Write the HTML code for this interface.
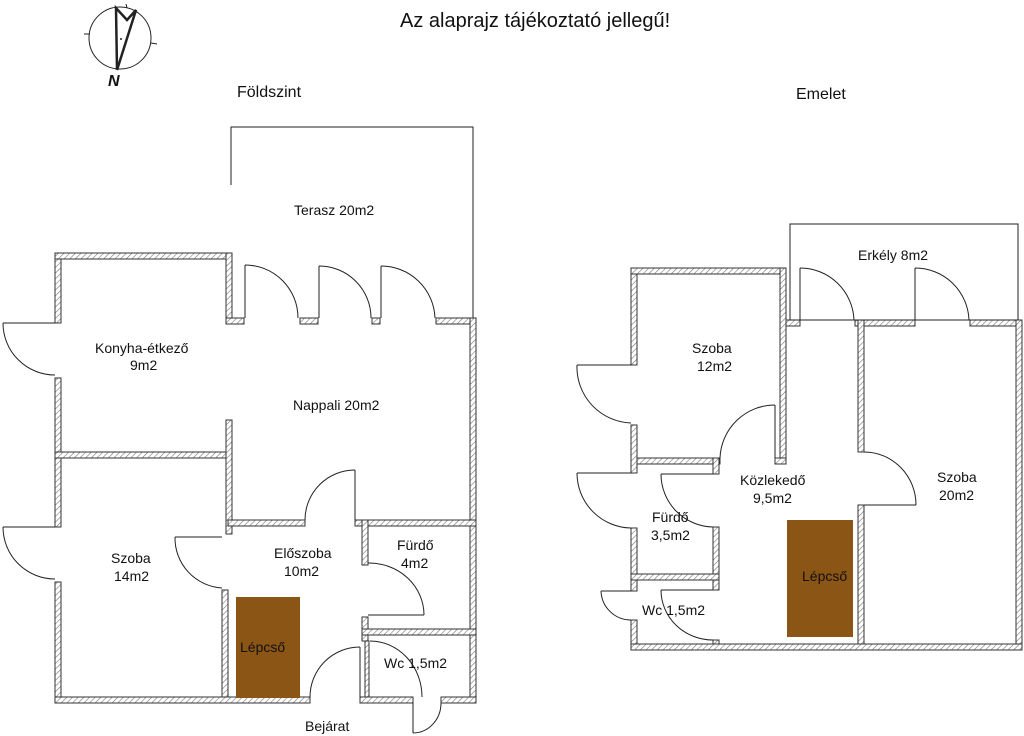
<!DOCTYPE html>
<html><head><meta charset="utf-8"><style>
body{margin:0;background:#fff}
svg{display:block}
text{font-family:"Liberation Sans",sans-serif;font-size:14px;fill:#111}
</style></head><body>
<svg width="1024" height="736" viewBox="0 0 1024 736">
<defs>
<pattern id="h" width="4" height="4" patternUnits="userSpaceOnUse" patternTransform="rotate(45)">
<rect width="4" height="4" fill="#fff"/><line x1="0" y1="0" x2="0" y2="4" stroke="#777" stroke-width="1.2"/>
</pattern>
</defs>
<g fill="url(#h)" stroke="#333" stroke-width="1">
<!-- ground floor walls -->
<rect x="55" y="253" width="6" height="70"/>
<rect x="55" y="378" width="6" height="149"/>
<rect x="55" y="582" width="6" height="121"/>
<rect x="55" y="253" width="177" height="6"/>
<rect x="226" y="253" width="6" height="71"/>
<rect x="226" y="318" width="18" height="6"/>
<rect x="300" y="318" width="18" height="6"/>
<rect x="372" y="318" width="8" height="6"/>
<rect x="436" y="318" width="40" height="6"/>
<rect x="470" y="318" width="6" height="385"/>
<rect x="55" y="452" width="171" height="6"/>
<rect x="226" y="420" width="6" height="114"/>
<rect x="222" y="590" width="6" height="113"/>
<rect x="228" y="520" width="77" height="6"/>
<rect x="355" y="520" width="121" height="6"/>
<rect x="362" y="520" width="6" height="45"/>
<rect x="362" y="617" width="6" height="24"/>
<rect x="365" y="641" width="4" height="56"/>
<rect x="362" y="629" width="114" height="6"/>
<rect x="55" y="697" width="255" height="6"/>
<rect x="360" y="697" width="53" height="6"/>
<rect x="441" y="697" width="35" height="6"/>
<!-- upper floor walls -->
<rect x="631" y="268" width="6" height="97"/>
<rect x="631" y="425" width="6" height="48"/>
<rect x="631" y="528" width="6" height="63"/>
<rect x="631" y="620" width="6" height="30"/>
<rect x="631" y="268" width="155" height="6"/>
<rect x="780" y="268" width="6" height="196"/>
<rect x="637" y="458" width="83" height="6"/>
<rect x="775" y="458" width="11" height="6"/>
<rect x="786" y="320" width="14" height="6"/>
<rect x="855" y="320" width="60" height="6"/>
<rect x="970" y="320" width="52" height="6"/>
<rect x="1016" y="320" width="6" height="330"/>
<rect x="858" y="320" width="6" height="132"/>
<rect x="858" y="505" width="6" height="145"/>
<rect x="713" y="458" width="6" height="16"/>
<rect x="713" y="527" width="6" height="63"/>
<rect x="713" y="640" width="6" height="6"/>
<rect x="631" y="574" width="88" height="6"/>
<rect x="631" y="644" width="391" height="6"/>
</g>
<g fill="none" stroke="#222" stroke-width="1">
<!-- terasz / erkely -->
<polyline points="231,185 231,127 473,127 473,318"/>
<rect x="790" y="224" width="228" height="96"/>
<!-- ground doors -->
<line x1="245" y1="318" x2="245" y2="265"/><path d="M245,265 A53,53 0 0,1 298,318"/>
<line x1="319" y1="318" x2="319" y2="266"/><path d="M319,266 A52,52 0 0,1 371,318"/>
<line x1="381" y1="318" x2="381" y2="266"/><path d="M381,266 A54,54 0 0,1 435,318"/>
<line x1="55" y1="323" x2="3" y2="323"/><path d="M3,323 A52,52 0 0,0 55,375"/>
<line x1="55" y1="527" x2="3" y2="527"/><path d="M3,527 A52,52 0 0,0 55,579"/>
<line x1="222" y1="537" x2="175" y2="537"/><path d="M175,537 A50,50 0 0,0 222,588"/>
<line x1="355" y1="520" x2="355" y2="470"/><path d="M355,470 A50,50 0 0,0 305,520"/>
<line x1="368" y1="615" x2="424" y2="615"/><path d="M368,563 A55,52 0 0,1 424,615"/>
<path d="M370,641 A52,56 0 0,1 422,697"/>
<line x1="360" y1="697" x2="360" y2="647"/><path d="M360,647 A50,50 0 0,0 310,697"/>
<line x1="413" y1="703" x2="413" y2="733"/><path d="M413,733 A28,30 0 0,0 441,703"/>
<!-- upper doors -->
<line x1="631" y1="365" x2="577" y2="365"/><path d="M577,365 A56,56 0 0,0 631,423"/>
<line x1="631" y1="473" x2="577" y2="473"/><path d="M577,473 A55,55 0 0,0 631,528"/>
<line x1="631" y1="591" x2="601" y2="591"/><path d="M601,591 A30,30 0 0,0 631,620"/>
<line x1="775" y1="458" x2="775" y2="405"/><path d="M775,405 A55,55 0 0,0 720,458"/>
<line x1="713" y1="474" x2="661" y2="474"/><path d="M661,474 A53,53 0 0,0 713,527"/>
<line x1="713" y1="590" x2="661" y2="590"/><path d="M661,590 A52,50 0 0,0 713,640"/>
<line x1="864" y1="505" x2="916" y2="505"/><path d="M864,452 A52,53 0 0,1 916,505"/>
<line x1="800" y1="320" x2="800" y2="268"/><path d="M800,268 A54,54 0 0,1 854,320"/>
<line x1="915" y1="320" x2="915" y2="268"/><path d="M915,268 A54,54 0 0,1 969,320"/>
<!-- compass -->
<circle cx="120" cy="38" r="31"/>
<line x1="126" y1="4" x2="127" y2="8"/><line x1="84" y1="34" x2="90" y2="34"/><line x1="151" y1="43" x2="157" y2="44"/>
<polyline stroke-width="2.5" points="117,70 116,8 127,20 136,10 117,70"/>
</g>
<circle cx="121" cy="39" r="1" fill="#222"/>
<rect x="236" y="597" width="64" height="101" fill="#8B5516"/>
<rect x="787" y="520" width="66" height="117" fill="#8B5516"/>
<g>
<text x="108" y="86" style="font-size:16px;font-weight:bold;font-style:italic">N</text>
<text x="400" y="27" style="font-size:20px">Az alaprajz tájékoztató jellegű!</text>
<text x="237" y="97" style="font-size:16px">Földszint</text>
<text x="796" y="99" style="font-size:16px">Emelet</text>
<text x="294" y="215">Terasz  20m2</text>
<text x="95" y="353">Konyha-étkező</text>
<text x="130" y="370">9m2</text>
<text x="293" y="410">Nappali  20m2</text>
<text x="111" y="563">Szoba</text>
<text x="114" y="581">14m2</text>
<text x="274" y="558">Előszoba</text>
<text x="284" y="576">10m2</text>
<text x="397" y="550">Fürdő</text>
<text x="401" y="568">4m2</text>
<text x="240" y="652">Lépcső</text>
<text x="384" y="668">Wc 1,5m2</text>
<text x="305" y="731">Bejárat</text>
<text x="858" y="260">Erkély  8m2</text>
<text x="692" y="353">Szoba</text>
<text x="697" y="371">12m2</text>
<text x="740" y="485">Közlekedő</text>
<text x="753" y="503">9,5m2</text>
<text x="937" y="482">Szoba</text>
<text x="939" y="500">20m2</text>
<text x="652" y="522">Fürdő</text>
<text x="651" y="540">3,5m2</text>
<text x="802" y="581">Lépcső</text>
<text x="642" y="615">Wc 1,5m2</text>
</g>
</svg>
</body></html>
